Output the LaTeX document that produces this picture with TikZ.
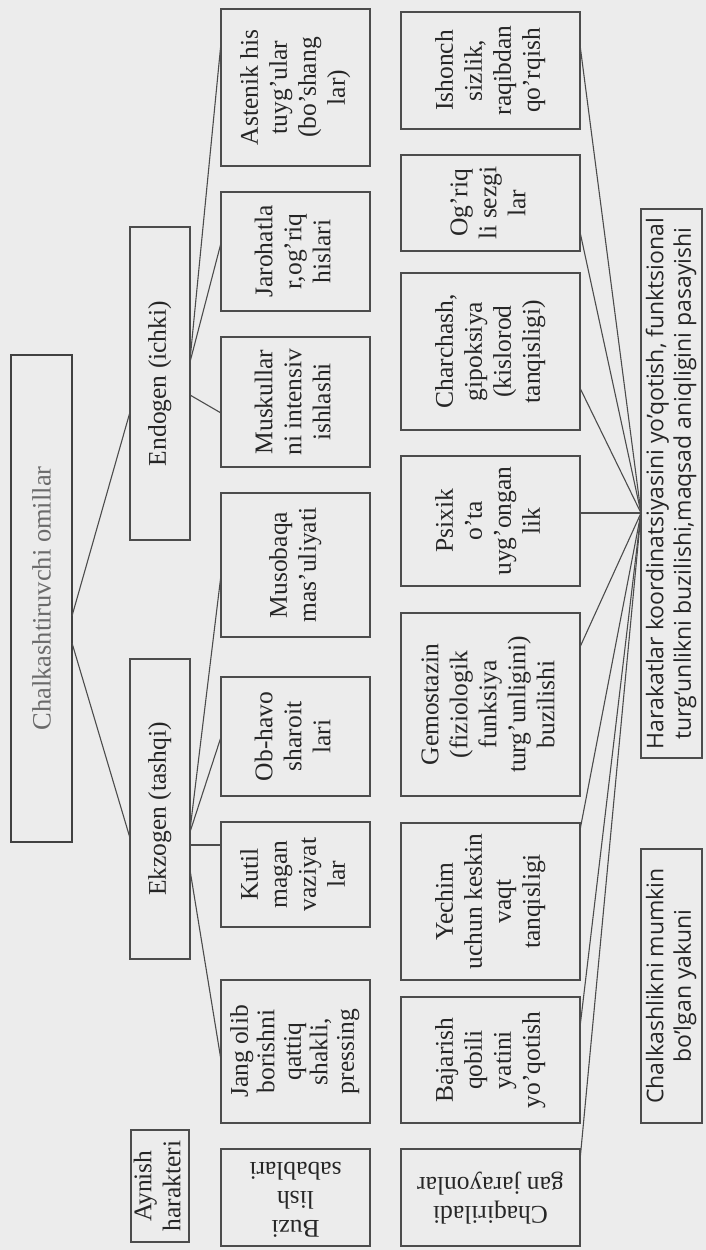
\documentclass[tikz,border=0pt]{standalone}
\usepackage{fontspec}
\setmainfont{Liberation Serif}
\newfontfamily\sansx{Open Sans}
\usetikzlibrary{calc}
\definecolor{bg}{HTML}{ECECEC}
\definecolor{ink}{HTML}{262626}
\definecolor{edge}{HTML}{4C4C4C}
\definecolor{faded}{HTML}{6A6A6A}
\tikzset{
  box/.style={draw=edge, line width=1.1pt, inner sep=0pt, outer sep=0pt, text=ink, align=center},
  mainbox/.style={box, draw=edge!85!black, line width=2.6pt, text=faded},
  conn/.style={draw=edge, line width=1.1pt},
}
\newcommand\vt[1]{\rotatebox{90}{\fontsize{25.5}{29}\selectfont\begin{tabular}{@{}c@{}}#1\end{tabular}}}
\newcommand\ut[1]{\rotatebox{180}{\fontsize{25.5}{29}\selectfont\begin{tabular}{@{}c@{}}#1\end{tabular}}}
\newcommand\st[1]{\rotatebox{90}{\sansx\fontsize{23}{27.5}\selectfont\begin{tabular}{@{}c@{}}#1\end{tabular}}}
\begin{document}
\begin{tikzpicture}[x=1pt,y=-1pt]
\useasboundingbox (0,0) rectangle (706,1250);
\fill[bg] (0,0) rectangle (706,1250);

% column 1
\node[mainbox, minimum width=61pt, minimum height=487pt] (main) at (41.5,598.5) {\rotatebox{90}{\fontsize{26.5}{30}\selectfont Chalkashtiruvchi omillar}};
% column 2
\node[box, minimum width=60pt, minimum height=313pt] (endo) at (160,383.5) {\vt{Endogen (ichki)}};
\node[box, minimum width=60pt, minimum height=300pt] (ekzo) at (160,809) {\vt{Ekzogen (tashqi)}};
\node[box, minimum width=58pt, minimum height=112pt] (aynish) at (160,1186) {\vt{Aynish\\harakteri}};
% column 3
\node[box, minimum width=149pt, minimum height=157pt] (astenik) at (295.5,87.5) {\vt{Astenik his\\tuyg'ular\\(bo'shang\\lar)}};
\node[box, minimum width=149pt, minimum height=119pt] (jaroh) at (295.5,251.5) {\vt{Jarohatla\\r,og'riq\\hislari}};
\node[box, minimum width=149pt, minimum height=130pt] (musk) at (295.5,402) {\vt{Muskullar\\ni intensiv\\ishlashi}};
\node[box, minimum width=149pt, minimum height=144pt] (musob) at (295.5,565) {\vt{Musobaqa\\mas'uliyati}};
\node[box, minimum width=149pt, minimum height=119pt] (obhavo) at (295.5,736.5) {\vt{Ob-havo\\sharoit\\lari}};
\node[box, minimum width=149pt, minimum height=105pt] (kutil) at (295.5,874.5) {\vt{Kutil\\magan\\vaziyat\\lar}};
\node[box, minimum width=149pt, minimum height=143pt] (jang) at (295.5,1051.5) {\rotatebox{90}{\fontsize{25.5}{26.5}\selectfont\begin{tabular}{@{}c@{}}Jang olib\\borishni\\qattiq\\shakli,\\pressing\end{tabular}}};
\node[box, minimum width=149pt, minimum height=97pt] (buzi) at (295.5,1197.5) {\ut{Buzi\\lish\\sabablari}};
% column 4
\node[box, minimum width=179pt, minimum height=117pt] (ishonch) at (490.5,70.5) {\vt{Ishonch\\sizlik,\\raqibdan\\qo'rqish}};
\node[box, minimum width=179pt, minimum height=96pt] (ogriq) at (490.5,203) {\vt{Og'riq\\li sezgi\\lar}};
\node[box, minimum width=179pt, minimum height=157pt] (charch) at (490.5,351.5) {\vt{Charchash,\\gipoksiya\\(kislorod\\tanqisligi)}};
\node[box, minimum width=179pt, minimum height=130pt] (psixik) at (490.5,521) {\vt{Psixik\\o'ta\\uyg'ongan\\lik}};
\node[box, minimum width=179pt, minimum height=183pt] (gemo) at (490.5,704.5) {\vt{Gemostazin\\(fiziologik\\funksiya\\turg'unligini)\\buzilishi}};
\node[box, minimum width=179pt, minimum height=157pt] (yechim) at (490.5,901.5) {\vt{Yechim\\uchun keskin\\vaqt\\tanqisligi}};
\node[box, minimum width=179pt, minimum height=126pt] (bajar) at (490.5,1060) {\vt{Bajarish\\qobili\\yatini\\yo'qotish}};
\node[box, minimum width=179pt, minimum height=97pt] (chaqir) at (490.5,1197.5) {\ut{Chaqiriladi\\gan jarayonlar}};
% column 5
\node[box, minimum width=61pt, minimum height=549pt] (harak) at (671.5,483.5) {\st{Harakatlar koordinatsiyasini yo’qotish, funktsional\\turg’unlikni buzilishi,maqsad aniqligini pasayishi}};
\node[box, minimum width=61pt, minimum height=274pt] (chalk) at (671.5,986) {\st{Chalkashlikni mumkin\\bo’lgan yakuni}};

% connectors from main
\draw[conn] (main.east |- 0,616) -- (endo.west |- 0,412);
\draw[conn] (main.east |- 0,643) -- (ekzo.west |- 0,838);
% endogen fan
\draw[conn] (endo.east |- 0,360) -- (astenik.west |- 0,43);
\draw[conn] (endo.east |- 0,362) -- (jaroh.west |- 0,243);
\draw[conn] (endo.east |- 0,395) -- (musk.west |- 0,413);
% ekzogen fan
\draw[conn] (ekzo.east |- 0,830) -- (musob.west |- 0,575);
\draw[conn] (ekzo.east |- 0,832) -- (obhavo.west |- 0,737);
\draw[conn] (ekzo.east |- 0,845) -- (kutil.west |- 0,845);
\draw[conn] (ekzo.east |- 0,870) -- (jang.west |- 0,1060);
% convergence into harak
\coordinate (hub) at (harak.west |- 0,513);
\draw[conn] (ishonch.east |- 0,45) -- (hub);
\draw[conn] (ogriq.east |- 0,232) -- (hub);
\draw[conn] (charch.east |- 0,388) -- (hub);
\draw[conn] (psixik.east |- 0,513) -- (hub);
\draw[conn] (gemo.east |- 0,647) -- (hub);
\draw[conn] (yechim.east |- 0,830) -- (hub);
\draw[conn] (bajar.east |- 0,1027) -- (hub);
\draw[conn] (chaqir.east |- 0,1160) -- (hub);
\end{tikzpicture}
\end{document}
